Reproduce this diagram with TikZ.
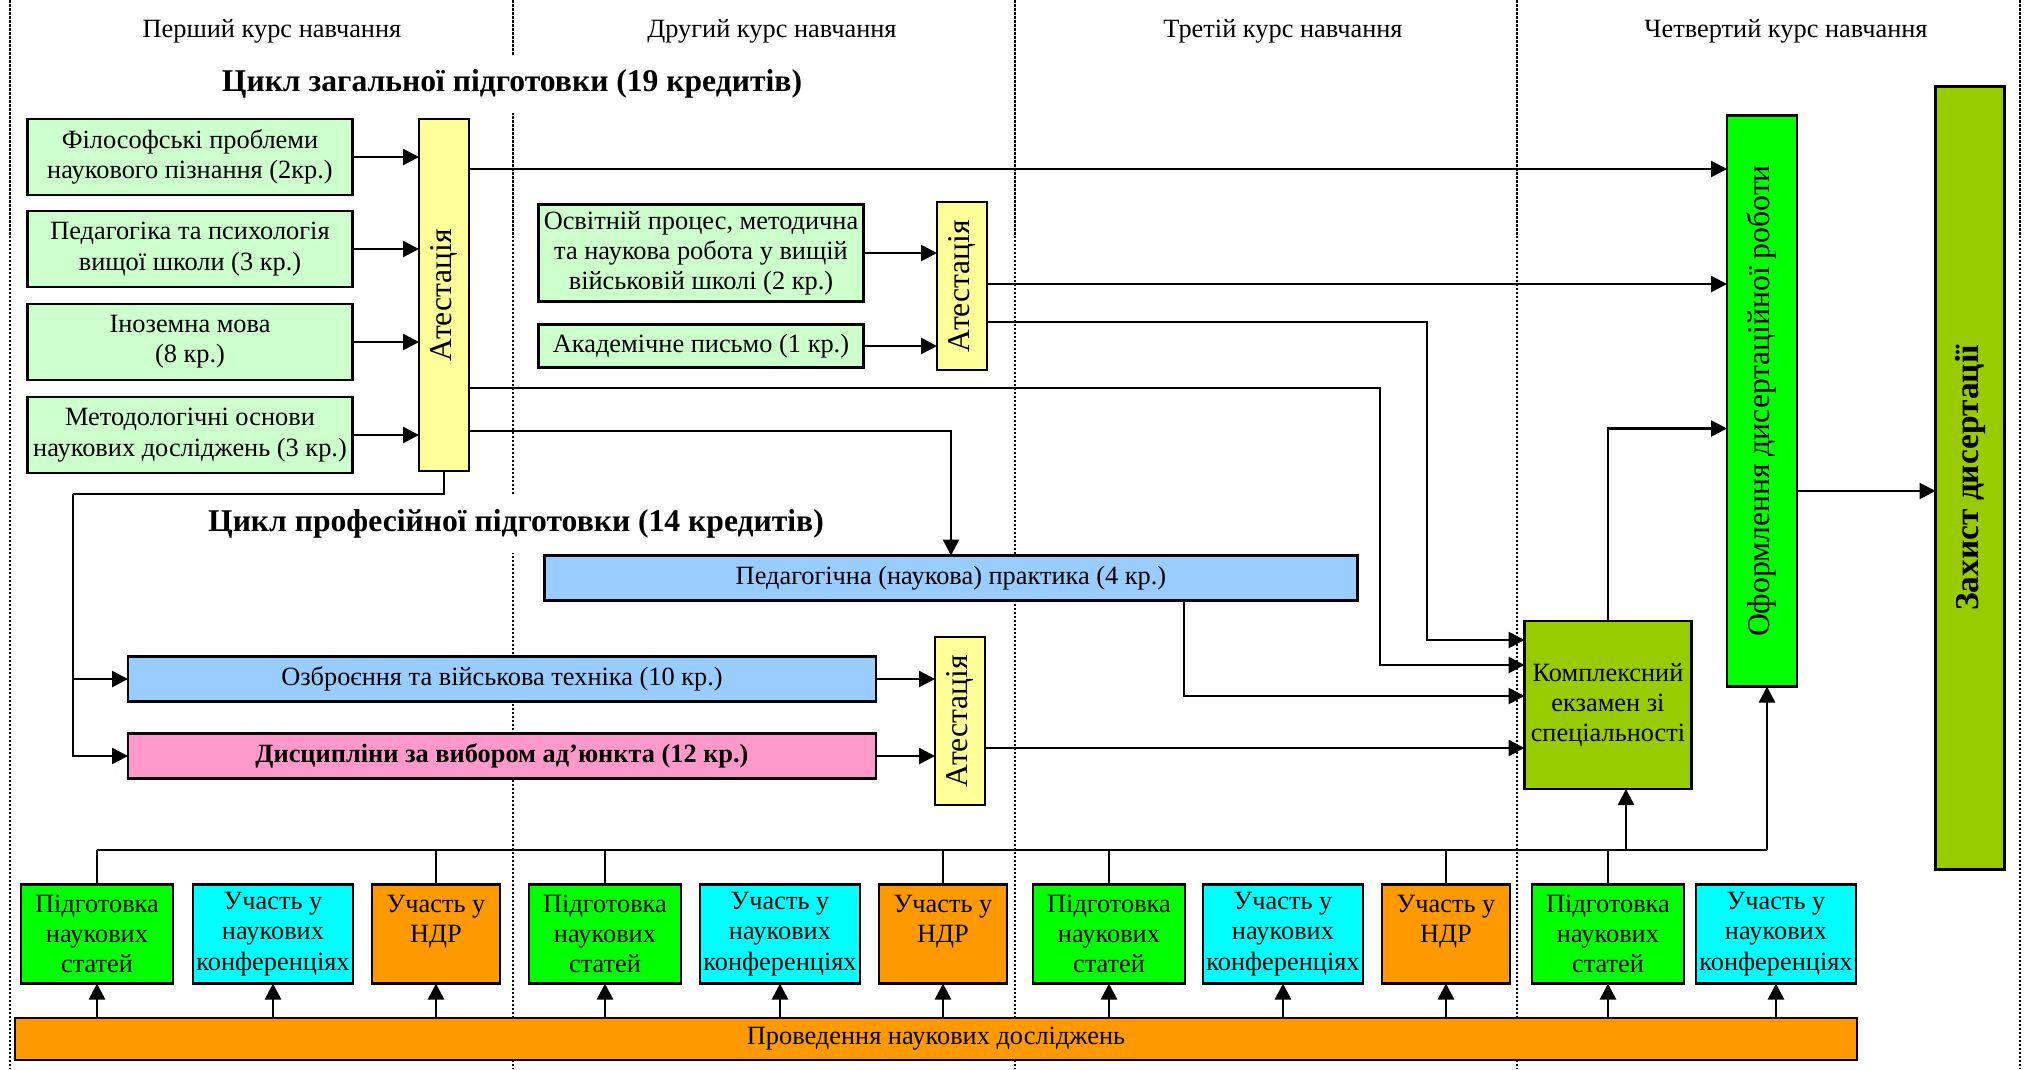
\documentclass[tikz,border=0pt]{standalone}
\usepackage{fontspec}
\setmainfont{Liberation Serif}
\usetikzlibrary{arrows.meta, positioning}

\definecolor{subjgreen}{HTML}{CCFFCC}
\definecolor{attyellow}{HTML}{FFFF99}
\definecolor{brightgreen}{HTML}{00FF00}
\definecolor{examgreen}{HTML}{99CC00}
\definecolor{practblue}{HTML}{99CCFF}
\definecolor{electpink}{HTML}{FF99CC}
\definecolor{confcyan}{HTML}{00FFFF}
\definecolor{ndrorange}{HTML}{FF9900}

\newcommand{\txtsize}{\fontsize{7.5pt}{8.6pt}\selectfont}
\newcommand{\bigsize}{\fontsize{9pt}{10pt}\selectfont}

\begin{document}
\begin{tikzpicture}[x=0.1mm, y=-0.1mm,
    % Node styles
    box/.style={
        rectangle, draw=black, line width=0.7pt, inner sep=0pt, outer sep=0pt,
        align=center, font=\txtsize, text=black
    },
    subj/.style={
        box, fill=subjgreen, minimum width=32.5mm, minimum height=7.6mm
    },
    attest/.style={
        box, fill=attyellow, minimum width=5mm, font=\bigsize
    },
    strip/.style={
        box, minimum height=4.5mm
    },
    article/.style={
        box, fill=brightgreen, minimum width=15.2mm, minimum height=9.9mm
    },
    conf/.style={
        box, fill=confcyan, minimum width=16mm, minimum height=9.9mm
    },
    ndr/.style={
        box, fill=ndrorange, minimum width=12.8mm, minimum height=9.9mm
    },
    yearlabel/.style={
        font=\txtsize, inner sep=0pt
    },
    cyclelabel/.style={
        font=\bfseries\bigsize, fill=white, inner xsep=2pt, minimum height=5.8mm
    },
    arrow/.style={
        -{Triangle[length=1.6mm, width=1.6mm]}, line width=0.75pt
    },
    link/.style={
        line width=0.6pt
    },
    separator/.style={
        line width=0.25mm, dash pattern=on 0.25mm off 0.15mm
    }
]
\useasboundingbox (0,0) rectangle (2033,1069);

% --- Column separators ---
\draw[separator] (10,0) -- (10,1069);
\draw[separator] (513,0) -- (513,1069);
\draw[separator] (1015,0) -- (1015,1069);
\draw[separator] (1517,0) -- (1517,1069);
\draw[separator] (2020,0) -- (2020,1069);

% --- Year headers ---
\node[yearlabel] (year1) at (272,31) {Перший курс навчання};
\node[yearlabel] (year2) at (772,31) {Другий курс навчання};
\node[yearlabel] (year3) at (1283,31) {Третій курс навчання};
\node[yearlabel] (year4) at (1786,31) {Четвертий курс навчання};

% --- Cycle titles ---
\node[cyclelabel] (cycle1) at (512,84) {Цикл загальної підготовки (19 кредитів)};
\node[cyclelabel] (cycle2) at (516,524) {Цикл професійної підготовки (14 кредитів)};

% --- General cycle ---
\node[subj] (phil) at (190,157) {Філософські проблеми\\наукового пізнання (2кр.)};
\node[subj, below=1.6mm of phil] (psych) {Педагогіка та психологія\\вищої школи (3 кр.)};
\node[subj, below=1.7mm of psych] (lang) {Іноземна мова\\(8 кр.)};
\node[subj, below=1.7mm of lang] (method) {Методологічні основи\\наукових досліджень (3 кр.)};
\node[attest, minimum height=35.2mm] (att1) at (444,295) {\rotatebox{90}{Атестація}};

\node[subj, minimum height=9.7mm] (edu) at (701,253) {Освітній процес, методична\\та наукова робота у вищій\\військовій школі (2 кр.)};
\node[subj, minimum height=4.3mm, below=2.3mm of edu] (writing) {Академічне письмо (1 кр.)};
\node[attest, minimum height=16.8mm] (att2) at (962,286) {\rotatebox{90}{Атестація}};

% --- Professional cycle ---
\node[strip, fill=practblue, minimum width=81.3mm] (practice) at (951,578) {Педагогічна (наукова) практика (4 кр.)};
\node[strip, fill=practblue, minimum width=74.8mm] (arms) at (502,679) {Озброєння та військова техніка (10 кр.)};
\node[strip, fill=electpink, minimum width=74.8mm, font=\bfseries\txtsize, below=3.2mm of arms] (elect) {Дисципліни за вибором ад’юнкта (12 кр.)};
\node[attest, minimum height=16.8mm] (att3) at (960,721) {\rotatebox{90}{Атестація}};

\node[box, fill=examgreen, minimum width=16.7mm, minimum height=16.8mm] (exam) at (1608,705) {Комплексний\\екзамен зі\\спеціальності};
\node[box, fill=brightgreen, minimum width=7mm, minimum height=57.1mm, font=\bigsize] (thesis) at (1762,401) {\rotatebox{90}{Оформлення дисертаційної роботи}};
\node[box, fill=examgreen, minimum width=6.9mm, minimum height=78.3mm, font=\bfseries\fontsize{9.5pt}{10pt}\selectfont] (defence) at (1970,478) {\rotatebox{90}{Захист дисертації}};

% --- Research work ---
\node[article] (art1) at (97,934) {Підготовка\\наукових\\статей};
\node[conf, right=2mm of art1] (conf1) {Участь у\\наукових\\конференціях};
\node[ndr, right=1.9mm of conf1] (ndr1) {Участь у\\НДР\\\mbox{}};
\node[article, right=2.9mm of ndr1] (art2) {Підготовка\\наукових\\статей};
\node[conf, right=1.9mm of art2] (conf2) {Участь у\\наукових\\конференціях};
\node[ndr, right=1.9mm of conf2] (ndr2) {Участь у\\НДР\\\mbox{}};
\node[article, right=2.6mm of ndr2] (art3) {Підготовка\\наукових\\статей};
\node[conf, right=1.8mm of art3] (conf3) {Участь у\\наукових\\конференціях};
\node[ndr, right=1.9mm of conf3] (ndr3) {Участь у\\НДР\\\mbox{}};
\node[article, right=2.2mm of ndr3] (art4) {Підготовка\\наукових\\статей};
\node[conf, right=1.2mm of art4] (conf4) {Участь у\\наукових\\конференціях};
\node[box, fill=ndrorange, minimum width=184.2mm, minimum height=4.2mm] (research) at (936,1039) {Проведення наукових досліджень};

% --- Helper coordinates ---
\coordinate (split) at (73,494);
\coordinate (route1) at (1380,0);
\coordinate (route2) at (1427,0);
\coordinate (route3) at (1184,0);
\coordinate (in1) at ([yshift=-1.9mm]exam.north west);
\coordinate (in2) at ([yshift=-4.4mm]exam.north west);
\coordinate (in3) at ([yshift=-7.5mm]exam.north west);
\coordinate (in4) at ([yshift=-12.7mm]exam.north west);
\coordinate (busK) at (1626,850);
\coordinate (busT) at (1767,850);

% --- Arrows: general cycle ---
\draw[arrow] (phil.east) -- (phil.east -| att1.west);
\draw[arrow] (psych.east) -- (psych.east -| att1.west);
\draw[arrow] (lang.east) -- (lang.east -| att1.west);
\draw[arrow] (method.east) -- (method.east -| att1.west);
\draw[arrow] (edu.east) -- (edu.east -| att2.west);
\draw[arrow] (writing.east) -- (writing.east -| att2.west);

\draw[arrow] ([yshift=-5mm]att1.north east) -- ([yshift=-5mm]att1.north east -| thesis.west);
\draw[arrow] ([yshift=-8.2mm]att2.north east) -- ([yshift=-8.2mm]att2.north east -| thesis.west);
\draw[arrow] ([yshift=-12mm]att2.north east) -| (route2 |- in1) -- (in1);
\draw[arrow] ([yshift=-26.9mm]att1.north east) -| (route1 |- in2) -- (in2);
\draw[arrow] ([yshift=-31.2mm]att1.north east) -| (practice.north);

% --- Arrows: professional cycle ---
\draw[link] (att1.south) |- (split);
\draw[arrow] (split) |- (elect.west);
\draw[arrow] (split |- arms.west) -- (arms.west);
\draw[arrow] (arms.east) -- (arms.east -| att3.west);
\draw[arrow] (elect.east) -- (elect.east -| att3.west);
\draw[arrow] (practice.south -| route3) |- (in3);
\draw[arrow] (att3.east |- in4) -- (in4);

\draw[arrow] (exam.north) |- ([yshift=-31.3mm]thesis.north west);
\draw[arrow] ([yshift=-9mm]thesis.east) -- ([yshift=-9mm]thesis.east -| defence.west);

% --- Research bus ---
\draw[link] (art1.north |- busT) -- (busT);
\draw[link] (art1.north) -- (art1.north |- busT);
\draw[link] (ndr1.north) -- (ndr1.north |- busT);
\draw[link] (art2.north) -- (art2.north |- busT);
\draw[link] (ndr2.north) -- (ndr2.north |- busT);
\draw[link] (art3.north) -- (art3.north |- busT);
\draw[link] (ndr3.north) -- (ndr3.north |- busT);
\draw[link] (art4.north) -- (art4.north |- busT);
\draw[arrow] (busK) -- (busK |- exam.south);
\draw[arrow] (busT) -- (busT |- thesis.south);

\draw[arrow] (research.north -| art1.south) -- (art1.south);
\draw[arrow] (research.north -| conf1.south) -- (conf1.south);
\draw[arrow] (research.north -| ndr1.south) -- (ndr1.south);
\draw[arrow] (research.north -| art2.south) -- (art2.south);
\draw[arrow] (research.north -| conf2.south) -- (conf2.south);
\draw[arrow] (research.north -| ndr2.south) -- (ndr2.south);
\draw[arrow] (research.north -| art3.south) -- (art3.south);
\draw[arrow] (research.north -| conf3.south) -- (conf3.south);
\draw[arrow] (research.north -| ndr3.south) -- (ndr3.south);
\draw[arrow] (research.north -| art4.south) -- (art4.south);
\draw[arrow] (research.north -| conf4.south) -- (conf4.south);

\end{tikzpicture}
\end{document}
